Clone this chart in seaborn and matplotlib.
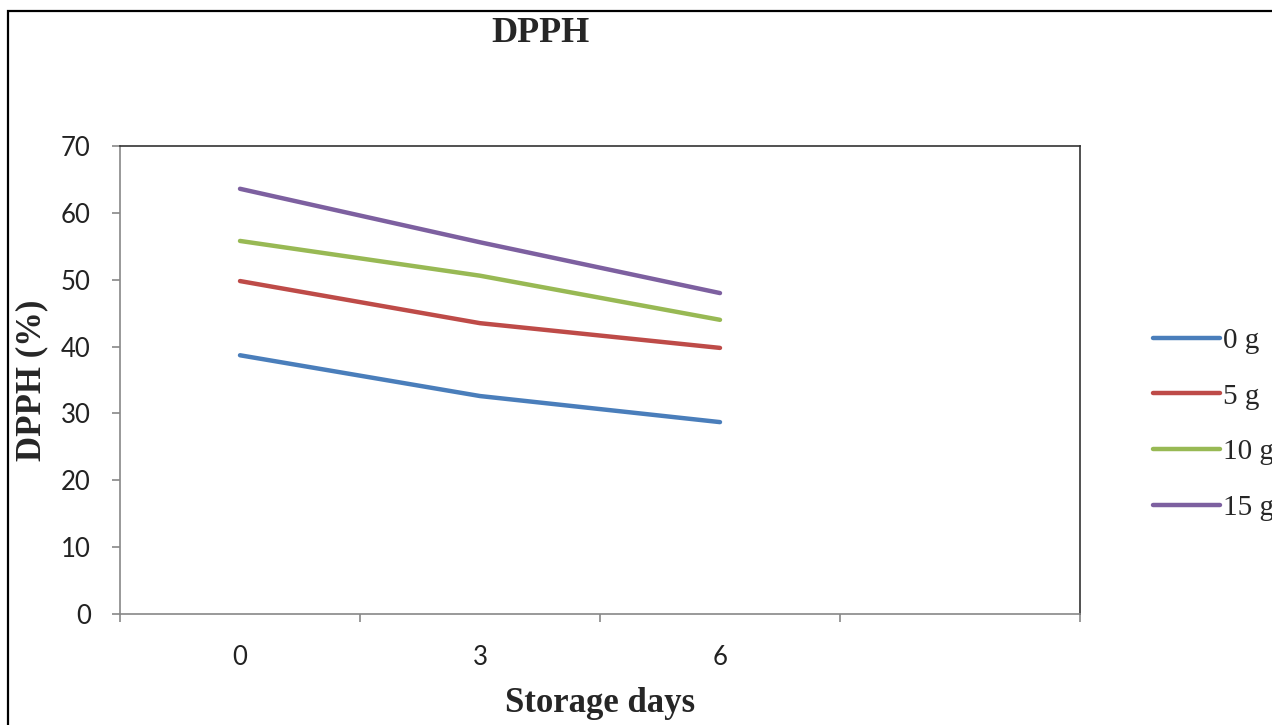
import seaborn as sns
import matplotlib.pyplot as plt
import pandas as pd
from matplotlib.patches import Rectangle

# data
days = ['0', '3', '6']
dose_0g = [38.7, 32.6, 28.7]
dose_5g = [49.8, 43.5, 39.8]
dose_10g = [55.8, 50.6, 44.0]
dose_15g = [63.6, 55.6, 48.0]
series_names = ['0 g', '5 g', '10 g', '15 g']
colors = ['#4a7ebb', '#be4b48', '#98b954', '#7d60a0']

rows = []
for name, vals in zip(series_names, [dose_0g, dose_5g, dose_10g, dose_15g]):
    for i, v in enumerate(vals):
        rows.append({'pos': i, 'value': v, 'series': name})
df = pd.DataFrame(rows)

sns.set_style('white')
plt.rcParams['font.family'] = ['Lato', 'DejaVu Sans']

fig = plt.figure(figsize=(12.72, 7.25), dpi=100)
ax = fig.add_axes([120/1272, 111/725, 960/1272, 468/725])

sns.lineplot(data=df, x='pos', y='value', hue='series', palette=colors,
             linewidth=3.2, ax=ax, legend=False, solid_capstyle='round')

ax.set_xlim(-0.5, 3.5)
ax.set_ylim(0, 70)
ax.set_yticks(range(0, 71, 10))
ax.tick_params(axis='y', left=True, labelsize=18.5, length=6, width=1.2, color='#888888',
               labelcolor='#222222', pad=15)

# category boundaries get tick marks, centers get the labels
ax.set_xticks([-0.5, 0.5, 1.5, 2.5, 3.5])
ax.set_xticklabels([])
ax.set_xticks([0, 1, 2], minor=True)
ax.set_xticklabels(days, minor=True)
ax.tick_params(axis='x', which='major', bottom=True, length=6, width=1.2, color='#888888')
ax.tick_params(axis='x', which='minor', bottom=True, length=0, labelsize=18.5,
               labelcolor='#222222', pad=22)

for side in ['left', 'bottom']:
    ax.spines[side].set_color('#888888')
    ax.spines[side].set_linewidth(1.2)
for side in ['top', 'right']:
    ax.spines[side].set_color('#333333')
    ax.spines[side].set_linewidth(1.2)

ax.set_xlabel('')
ax.set_ylabel('')
fig.text(540/1272, 1 - 33/725, 'DPPH', family='Liberation Serif', weight='bold',
         fontsize=26, ha='center', va='center')
fig.text(32/1272, 1 - 380/725, 'DPPH (%)', family='Liberation Serif', weight='bold',
         fontsize=25, ha='center', va='center', rotation=90)
fig.text(600/1272, 1 - 703/725, 'Storage days', family='Liberation Serif', weight='bold',
         fontsize=25, ha='center', va='center')

handles = [plt.Line2D([], [], color=c, linewidth=3.2, solid_capstyle='round') for c in colors]
fig.legend(handles, series_names, loc='upper left', bbox_to_anchor=(1141/1272, 1 - 316/725),
           frameon=False, prop={'family': 'Liberation Serif', 'size': 21},
           handlelength=2.3, handletextpad=0.12, labelspacing=1.0, borderaxespad=0)

# outer frame of the original picture
fig.add_artist(Rectangle((8/1272, -0.2), 1.2, 1.2 - 11/725,
                         transform=fig.transFigure, fill=False,
                         edgecolor='black', linewidth=1.6))

fig.savefig('out.png', dpi=100)
